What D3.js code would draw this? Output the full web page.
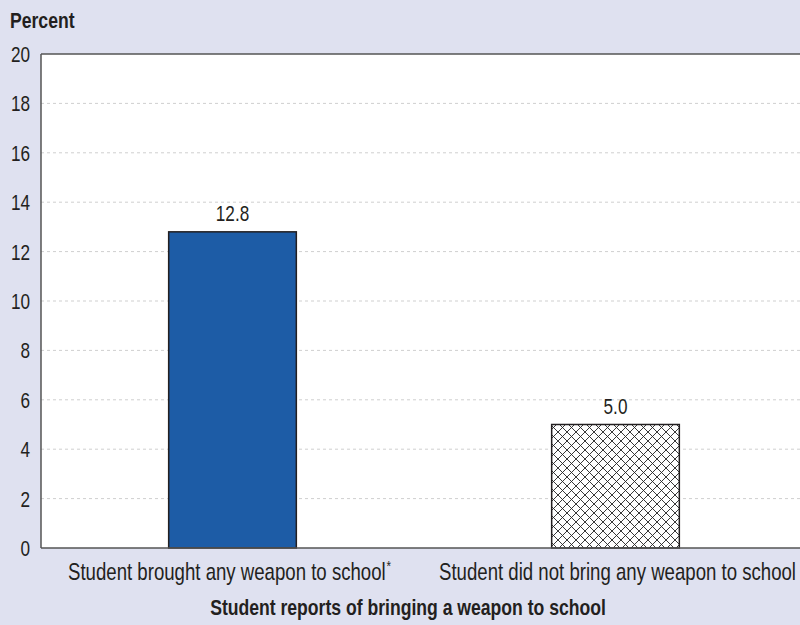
<!DOCTYPE html>
<html>
<head>
<meta charset="utf-8">
<script src="https://cdn.jsdelivr.net/npm/d3@7"></script>
<style>
  html, body { margin: 0; padding: 0; background: #dfe1f0; }
  svg { display: block; }
  text { font-family: "Liberation Sans", Arial, sans-serif; fill: #231f20; }
</style>
</head>
<body>
<svg id="chart" width="800" height="625"></svg>
<script>
// Chart data
const categories = ["Student brought any weapon to school", "Student did not bring any weapon to school"];
const superscripts = ["*", ""];
const values = [12.8, 5.0];
const valueLabels = ["12.8", "5.0"];
const yTicks = [0, 2, 4, 6, 8, 10, 12, 14, 16, 18, 20];
const yTitle = "Percent";
const xTitle = "Student reports of bringing a weapon to school";

const svg = d3.select("#chart");
const W = 800, H = 625;
const plot = { left: 41, top: 54, right: 807, bottom: 548 };

// Horizontal squeeze that gives the text a condensed look
const SQ = 0.78, SQ_BOLD = 0.80;
const place = (x, y, s) => `translate(${x},${y}) scale(${s},1)`;

svg.append("rect").attr("width", W).attr("height", H).attr("fill", "#dfe1f0");

// Crosshatch pattern for the second bar
const defs = svg.append("defs");
const pat = defs.append("pattern")
  .attr("id", "crosshatch")
  .attr("patternUnits", "userSpaceOnUse")
  .attr("width", 9).attr("height", 9);
pat.append("rect").attr("width", 9).attr("height", 9).attr("fill", "#fff");
pat.append("path").attr("d", "M0,0 L9,9 M-1,8 L1,10 M8,-1 L10,1").attr("stroke", "#222").attr("stroke-width", 0.9);
pat.append("path").attr("d", "M9,0 L0,9 M-1,1 L1,-1 M8,10 L10,8").attr("stroke", "#222").attr("stroke-width", 0.9);

const y = d3.scaleLinear().domain([0, 20]).range([plot.bottom, plot.top]);
const x = d3.scaleBand().domain(categories).range([plot.left, plot.right]).padding(0);
const barW = x.bandwidth() / 3;

// Plot background
svg.append("rect")
  .attr("x", plot.left).attr("y", plot.top)
  .attr("width", W - plot.left).attr("height", plot.bottom - plot.top)
  .attr("fill", "#fff");

// Gridlines
svg.append("g")
  .selectAll("line")
  .data(yTicks.filter(t => t > 0 && t < 20))
  .join("line")
  .attr("x1", plot.left).attr("x2", W)
  .attr("y1", d => y(d)).attr("y2", d => y(d))
  .attr("stroke", "#cfcfcf").attr("stroke-width", 1)
  .attr("stroke-dasharray", "3,3");

// Y axis
const yAxis = svg.append("g")
  .attr("transform", `translate(${plot.left},0)`)
  .call(d3.axisLeft(y).tickValues(yTicks).tickSize(0).tickPadding(11));
yAxis.select(".domain").remove();
yAxis.selectAll(".tick text")
  .attr("x", null).attr("dy", null)
  .attr("font-size", 22)
  .style("font-family", "'Liberation Sans', Arial, sans-serif")
  .attr("fill", "#231f20")
  .attr("transform", place(-11, 7.5, SQ));

// Bars
const fills = ["#1d5ca6", "url(#crosshatch)"];
svg.append("g")
  .selectAll("rect")
  .data(categories)
  .join("rect")
  .attr("x", d => x(d) + x.bandwidth() / 2 - barW / 2)
  .attr("y", (d, i) => y(values[i]))
  .attr("width", barW)
  .attr("height", (d, i) => y(0) - y(values[i]))
  .attr("fill", (d, i) => fills[i])
  .attr("stroke", "#231f20")
  .attr("stroke-width", 1.5);

// Value labels
svg.append("g")
  .selectAll("text")
  .data(categories)
  .join("text")
  .attr("transform", (d, i) => place(x(d) + x.bandwidth() / 2, y(values[i]) - 11, SQ))
  .attr("text-anchor", "middle")
  .attr("font-size", 22)
  .text((d, i) => valueLabels[i]);

// Plot frame: left, top and bottom lines
svg.append("line").attr("x1", plot.left).attr("x2", plot.left).attr("y1", plot.top).attr("y2", plot.bottom)
  .attr("stroke", "#555").attr("stroke-width", 1.5);
svg.append("line").attr("x1", plot.left).attr("x2", W).attr("y1", plot.top).attr("y2", plot.top)
  .attr("stroke", "#555").attr("stroke-width", 1.5);
svg.append("line").attr("x1", plot.left).attr("x2", W).attr("y1", plot.bottom).attr("y2", plot.bottom)
  .attr("stroke", "#555").attr("stroke-width", 1.5);

// Category labels
const catLabels = svg.append("g")
  .selectAll("text")
  .data(categories)
  .join("text")
  .attr("transform", (d, i) => place(x(d) + x.bandwidth() / 2 - (i === 0 ? 3 : -2), 580, 0.776))
  .attr("text-anchor", "middle")
  .attr("font-size", 24);
catLabels.append("tspan").text(d => d);
catLabels.append("tspan")
  .attr("font-size", 15)
  .attr("dx", 1)
  .attr("dy", -9)
  .text((d, i) => superscripts[i]);

// Titles
svg.append("text")
  .attr("transform", place(10, 27.5, SQ_BOLD))
  .attr("font-size", 22).attr("font-weight", "bold")
  .text(yTitle);

svg.append("text")
  .attr("transform", place(408, 615, SQ_BOLD))
  .attr("text-anchor", "middle")
  .attr("font-size", 22).attr("font-weight", "bold")
  .text(xTitle);
</script>
</body>
</html>
